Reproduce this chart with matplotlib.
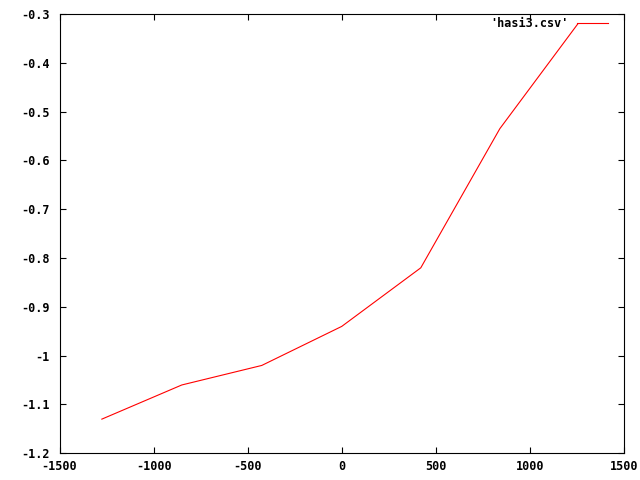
import matplotlib
matplotlib.use("Agg")
import matplotlib.pyplot as plt
from matplotlib.ticker import FuncFormatter

x_vals = [-1275, -850, -425, 0, 420, 840, 1255]
y_vals = [-1.13, -1.06, -1.02, -0.94, -0.82, -0.535, -0.32]
series_label = "'hasi3.csv'"
x_ticks = [-1500, -1000, -500, 0, 500, 1000, 1500]
y_ticks = [-1.2, -1.1, -1.0, -0.9, -0.8, -0.7, -0.6, -0.5, -0.4, -0.3]

plt.rcParams['font.family'] = ['DejaVu Sans Mono']
plt.rcParams['font.weight'] = 'bold'
plt.rcParams['font.size'] = 8.5

fig = plt.figure(figsize=(6.4, 4.8), dpi=100)
ax = fig.add_axes([59.5/640, 1 - 453.3/480, (624 - 59.5)/640, (453.3 - 14)/480])

ax.plot(x_vals, y_vals, color='#ff0000', linewidth=0.8, label=series_label)
ax.set_xlim(-1500, 1500)
ax.set_ylim(-1.2, -0.3)
ax.set_xticks(x_ticks)
ax.set_yticks(y_ticks)

def yfmt(v, pos):
    s = ('%.1f' % v)
    if s.endswith('.0'):
        s = s[:-2]
    return s

ax.yaxis.set_major_formatter(FuncFormatter(yfmt))
ax.xaxis.set_major_formatter(FuncFormatter(lambda v, p: '%d' % round(v)))
ax.tick_params(direction='in', top=True, right=True, length=4, width=0.8,
               labelsize=8.5)
ax.tick_params(axis='y', pad=7)
ax.tick_params(axis='x', pad=5)
for sp in ax.spines.values():
    sp.set_linewidth(0.8)
    sp.set_color('black')

leg = ax.legend(loc='upper right', bbox_to_anchor=(0.9717, 0.993),
                frameon=False, markerfirst=False,
                handlelength=2.6, handletextpad=0.7, borderaxespad=0.0,
                borderpad=0.0, fontsize=8.5)

fig.savefig('out.png', dpi=100)
